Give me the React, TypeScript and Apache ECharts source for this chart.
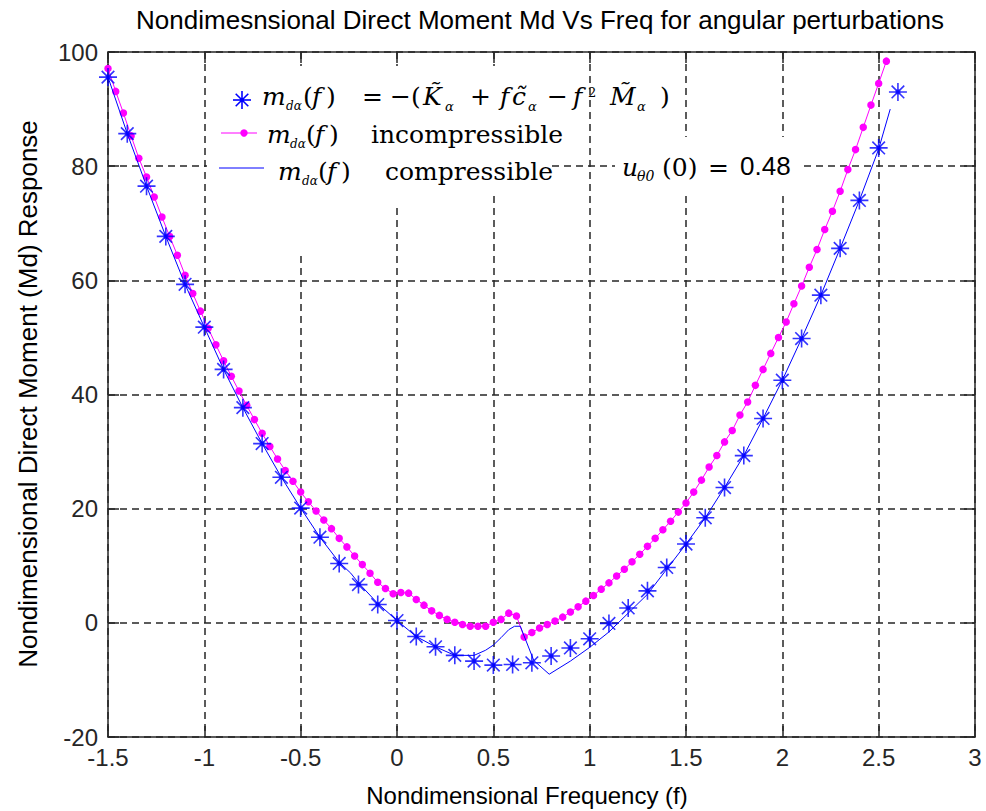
import React, { useEffect, useRef } from "react";
import * as echarts from "echarts";

// Blue asterisks: m_da(f) = -(K + f c - f^2 M)
const starF = [-1.5, -1.4, -1.3, -1.2, -1.1, -1.0, -0.9, -0.8, -0.7, -0.6, -0.5, -0.4, -0.3, -0.2, -0.1, 0.0, 0.1, 0.2, 0.3, 0.4, 0.5, 0.6, 0.7, 0.8, 0.9, 1.0, 1.1, 1.2, 1.3, 1.4, 1.5, 1.6, 1.7, 1.8, 1.9, 2.0, 2.1, 2.2, 2.3, 2.4, 2.5, 2.6];
const starM = [95.6, 85.7, 76.5, 67.7, 59.3, 51.8, 44.4, 37.7, 31.4, 25.5, 20.1, 15.0, 10.4, 6.7, 3.2, 0.4, -2.4, -4.2, -5.7, -6.7, -7.4, -7.3, -7.0, -5.8, -4.4, -2.8, -0.1, 2.6, 5.6, 9.7, 13.8, 18.4, 23.7, 29.3, 35.8, 42.5, 49.8, 57.4, 65.6, 74.0, 83.2, 93.0];

// Magenta: incompressible
const incF = [-1.5, -1.46, -1.42, -1.38, -1.34, -1.3, -1.26, -1.22, -1.18, -1.14, -1.1, -1.06, -1.02, -0.98, -0.94, -0.9, -0.86, -0.82, -0.78, -0.74, -0.7, -0.66, -0.62, -0.58, -0.54, -0.5, -0.46, -0.42, -0.38, -0.34, -0.3, -0.26, -0.22, -0.18, -0.14, -0.1, -0.06, -0.02, 0.02, 0.06, 0.1, 0.14, 0.18, 0.22, 0.26, 0.3, 0.34, 0.38, 0.42, 0.46, 0.5, 0.54, 0.58, 0.62, 0.66, 0.7, 0.74, 0.78, 0.82, 0.86, 0.9, 0.94, 0.98, 1.02, 1.06, 1.1, 1.14, 1.18, 1.22, 1.26, 1.3, 1.34, 1.38, 1.42, 1.46, 1.5, 1.54, 1.58, 1.62, 1.66, 1.7, 1.74, 1.78, 1.82, 1.86, 1.9, 1.94, 1.98, 2.02, 2.06, 2.1, 2.14, 2.18, 2.22, 2.26, 2.3, 2.34, 2.38, 2.42, 2.46, 2.5, 2.54];
const incM = [97.1, 93.1, 89.3, 85.3, 81.4, 78.1, 74.6, 71.1, 67.7, 64.4, 60.9, 57.7, 54.6, 51.6, 48.7, 45.9, 43.2, 40.6, 38.1, 35.6, 33.2, 30.9, 28.7, 26.7, 24.8, 22.9, 21.2, 19.6, 18.0, 16.5, 14.8, 13.3, 11.7, 10.2, 8.7, 7.1, 6.0, 5.1, 5.3, 5.2, 4.1, 3.1, 2.1, 1.3, 0.6, 0.1, -0.3, -0.6, -0.6, -0.6, 0.1, 0.6, 1.7, 1.2, -2.5, -1.7, -0.9, -0.3, 0.3, 1.0, 1.9, 2.8, 3.8, 4.8, 5.9, 7.0, 8.2, 9.4, 10.7, 12.0, 13.4, 14.8, 16.3, 17.8, 19.4, 21.0, 22.9, 25.0, 27.3, 29.3, 31.7, 33.7, 36.4, 38.7, 41.6, 44.4, 47.2, 50.0, 52.7, 55.9, 59.0, 62.3, 65.4, 68.9, 72.1, 75.6, 79.4, 82.9, 86.8, 90.7, 94.5, 98.4];

// Blue line: compressible
const compF = [-1.5, -1.4, -1.3, -1.2, -1.1, -1.0, -0.9, -0.8, -0.7, -0.6, -0.5, -0.4, -0.3, -0.24, -0.2, -0.1, 0.0, 0.1, 0.2, 0.3, 0.4, 0.46, 0.5, 0.54, 0.58, 0.61, 0.64, 0.71, 0.79, 0.9, 1.0, 1.1, 1.2, 1.3, 1.4, 1.5, 1.6, 1.7, 1.8, 1.9, 2.0, 2.1, 2.2, 2.3, 2.4, 2.5, 2.56];
const compM = [95.6, 85.7, 76.5, 67.7, 59.3, 51.8, 44.4, 37.7, 31.4, 25.5, 20.1, 15.0, 10.6, 8.7, 7.0, 3.4, 0.4, -2.4, -4.2, -5.7, -5.7, -4.8, -3.9, -2.6, -1.2, -0.6, -0.6, -6.6, -9.0, -6.7, -4.3, -1.6, 1.7, 5.0, 9.4, 13.8, 18.4, 23.7, 29.3, 35.8, 42.5, 49.8, 57.4, 65.6, 74.0, 83.0, 90.0];

const AX = "#262626";
const SANS = "Liberation Sans, Arial, sans-serif";
const SERIF = "DejaVu Serif, serif";

function txt(x: number, y: number, text: string, size: number, family: string, italic = false, align = "left", extra: any = {}) {
  return {
    type: "text",
    x,
    y,
    z: 10,
    ...extra,
    style: {
      text,
      fontSize: size,
      fontFamily: family,
      fontStyle: italic ? "italic" : "normal",
      fill: "#000",
      align,
      verticalAlign: "middle",
      textAlign: align,
      textVerticalAlign: "middle",
    },
  };
}

function whiteRect(x1: number, y1: number, x2: number, y2: number) {
  return { type: "rect", z: 5, shape: { x: x1, y: y1, width: x2 - x1, height: y2 - y1 }, style: { fill: "#fff" } };
}

export default function App() {
  const ref = useRef<HTMLDivElement>(null);
  useEffect(() => {
    document.body.style.margin = "0";
    const chart = echarts.init(ref.current!, null, { renderer: "svg" });
    const axisCommon = {
      type: "value",
      axisLine: { show: true, onZero: false, lineStyle: { color: AX, width: 1.5 } },
      axisTick: { show: true, inside: true, length: 11, lineStyle: { color: AX, width: 1.5 } },
    };
    const split = { show: true, lineStyle: { type: [7, 5], color: AX, width: 1.5 } };
    const starPath = "path://M0,-10L0,10M-10,0L10,0M-7,-7L7,7M-7,7L7,-7M-2,-2L2,-2L2,2L-2,2Z";
    const ly1 = 96, ly2 = 134, ly3 = 171;
    const option: any = {
      animation: false,
      backgroundColor: "#fff",
      grid: { left: 108, right: 11, top: 52, bottom: 74 },
      xAxis: [
        { ...axisCommon, min: -1.5, max: 3, interval: 0.5, position: "bottom",
          axisLabel: { fontFamily: SANS, fontSize: 24, color: AX, margin: 8 }, splitLine: split },
        { ...axisCommon, min: -1.5, max: 3, interval: 0.5, position: "top",
          axisLabel: { show: false }, splitLine: { show: false } },
      ],
      yAxis: [
        { ...axisCommon, min: -20, max: 100, interval: 20, position: "left",
          axisLabel: { fontFamily: SANS, fontSize: 24, color: AX, margin: 10 }, splitLine: split },
        { ...axisCommon, min: -20, max: 100, interval: 20, position: "right",
          axisLabel: { show: false }, splitLine: { show: false } },
      ],
      series: [
        {
          type: "line",
          name: "incompressible",
          data: incF.map((f, i) => [f, incM[i]]),
          symbol: "circle",
          symbolSize: 7.5,
          showAllSymbol: true,
          lineStyle: { color: "#ff00ff", width: 1 },
          itemStyle: { color: "#ff00ff" },
          z: 2,
        },
        {
          type: "line",
          name: "compressible",
          data: compF.map((f, i) => [f, compM[i]]),
          symbol: "none",
          lineStyle: { color: "#0000ff", width: 1 },
          z: 3,
        },
        {
          type: "scatter",
          name: "exact",
          data: starF.map((f, i) => [f, starM[i]]),
          symbol: starPath,
          symbolSize: 18,
          itemStyle: { color: "#0000ff", borderColor: "#0000ff", borderWidth: 1.6 },
          z: 4,
        },
      ],
      graphic: [
        whiteRect(207, 66, 552, 192),
        whiteRect(207, 192, 400, 203),
        whiteRect(207, 203, 310, 253),
        whiteRect(615, 137, 800, 192),
        // title & axis names
        txt(540, 20, "Nondimesnsional Direct Moment Md Vs Freq for angular perturbations", 26, SANS, false, "center"),
        txt(527, 795, "Nondimensional Frequency (f)", 24, SANS, false, "center"),
        txt(28, 394, "Nondimensional Direct Moment (Md) Response", 26, SANS, false, "center", { rotation: Math.PI / 2 }),
        // legend row 1 marker (asterisk)
        { type: "line", z: 10, shape: { x1: 233, y1: 100, x2: 251, y2: 100 }, style: { stroke: "#0000ff", lineWidth: 1.6 } },
        { type: "line", z: 10, shape: { x1: 242, y1: 91, x2: 242, y2: 109 }, style: { stroke: "#0000ff", lineWidth: 1.6 } },
        { type: "line", z: 10, shape: { x1: 235.7, y1: 93.7, x2: 248.3, y2: 106.3 }, style: { stroke: "#0000ff", lineWidth: 1.6 } },
        { type: "line", z: 10, shape: { x1: 235.7, y1: 106.3, x2: 248.3, y2: 93.7 }, style: { stroke: "#0000ff", lineWidth: 1.6 } },
        { type: "rect", z: 10, shape: { x: 240, y: 98, width: 4, height: 4 }, style: { fill: "#0000ff" } },
        // legend row 1 text
        txt(262, ly1, "m", 25, SERIF, true),
        txt(286, ly1 + 10, "dα", 12, SERIF, true),
        txt(303, ly1, "(", 25, SERIF),
        txt(312, ly1, "f", 25, SERIF, true),
        txt(326, ly1, ")", 25, SERIF),
        txt(362, ly1, "=", 25, SERIF),
        txt(390, ly1, "−(", 25, SERIF),
        txt(423, ly1, "K\u0303", 25, SERIF, true),
        txt(445, ly1 + 10, "α", 13, SERIF, true),
        txt(470, ly1, "+", 25, SERIF),
        txt(500, ly1, "f", 25, SERIF, true),
        txt(512, ly1, "c\u0303", 25, SERIF, true),
        txt(528, ly1 + 10, "α", 13, SERIF, true),
        txt(547, ly1, "−", 25, SERIF),
        txt(573, ly1, "f", 25, SERIF, true),
        txt(588, ly1 - 4, "2", 13, SERIF),
        txt(610, ly1, "M\u0303", 25, SERIF, true),
        txt(637, ly1 + 10, "α", 13, SERIF, true),
        txt(660, ly1, ")", 25, SERIF),
        // legend row 2
        { type: "line", z: 10, shape: { x1: 221, y1: 133, x2: 257, y2: 133 }, style: { stroke: "#ff00ff", lineWidth: 1 } },
        { type: "circle", z: 10, shape: { cx: 244, cy: 133, r: 3.7 }, style: { fill: "#ff00ff" } },
        txt(267, ly2, "m", 25, SERIF, true),
        txt(290, ly2 + 10, "dα", 12, SERIF, true),
        txt(306, ly2, "(", 25, SERIF),
        txt(315, ly2, "f", 25, SERIF, true),
        txt(329, ly2, ")", 25, SERIF),
        txt(371, ly2, "incompressible", 25, SERIF),
        // legend row 3
        { type: "line", z: 10, shape: { x1: 219, y1: 168, x2: 264, y2: 168 }, style: { stroke: "#0000ff", lineWidth: 1 } },
        txt(278, ly3, "m", 25, SERIF, true),
        txt(302, ly3 + 10, "dα", 12, SERIF, true),
        txt(318, ly3, "(", 25, SERIF),
        txt(327, ly3, "f", 25, SERIF, true),
        txt(341, ly3, ")", 25, SERIF),
        txt(385, ly3, "compressible", 25, SERIF),
        // annotation
        txt(622, 167, "u", 25, SERIF, true),
        txt(637, 176, "θ0", 14, SERIF, true),
        txt(662, 167, "(0)", 25, SERIF),
        txt(708, 167, "=", 25, SERIF),
        txt(740, 166, "0.48", 26, SANS),
      ],
    };
    chart.setOption(option);
    return () => chart.dispose();
  }, []);
  return <div ref={ref} style={{ width: 986, height: 811 }} />;
}
